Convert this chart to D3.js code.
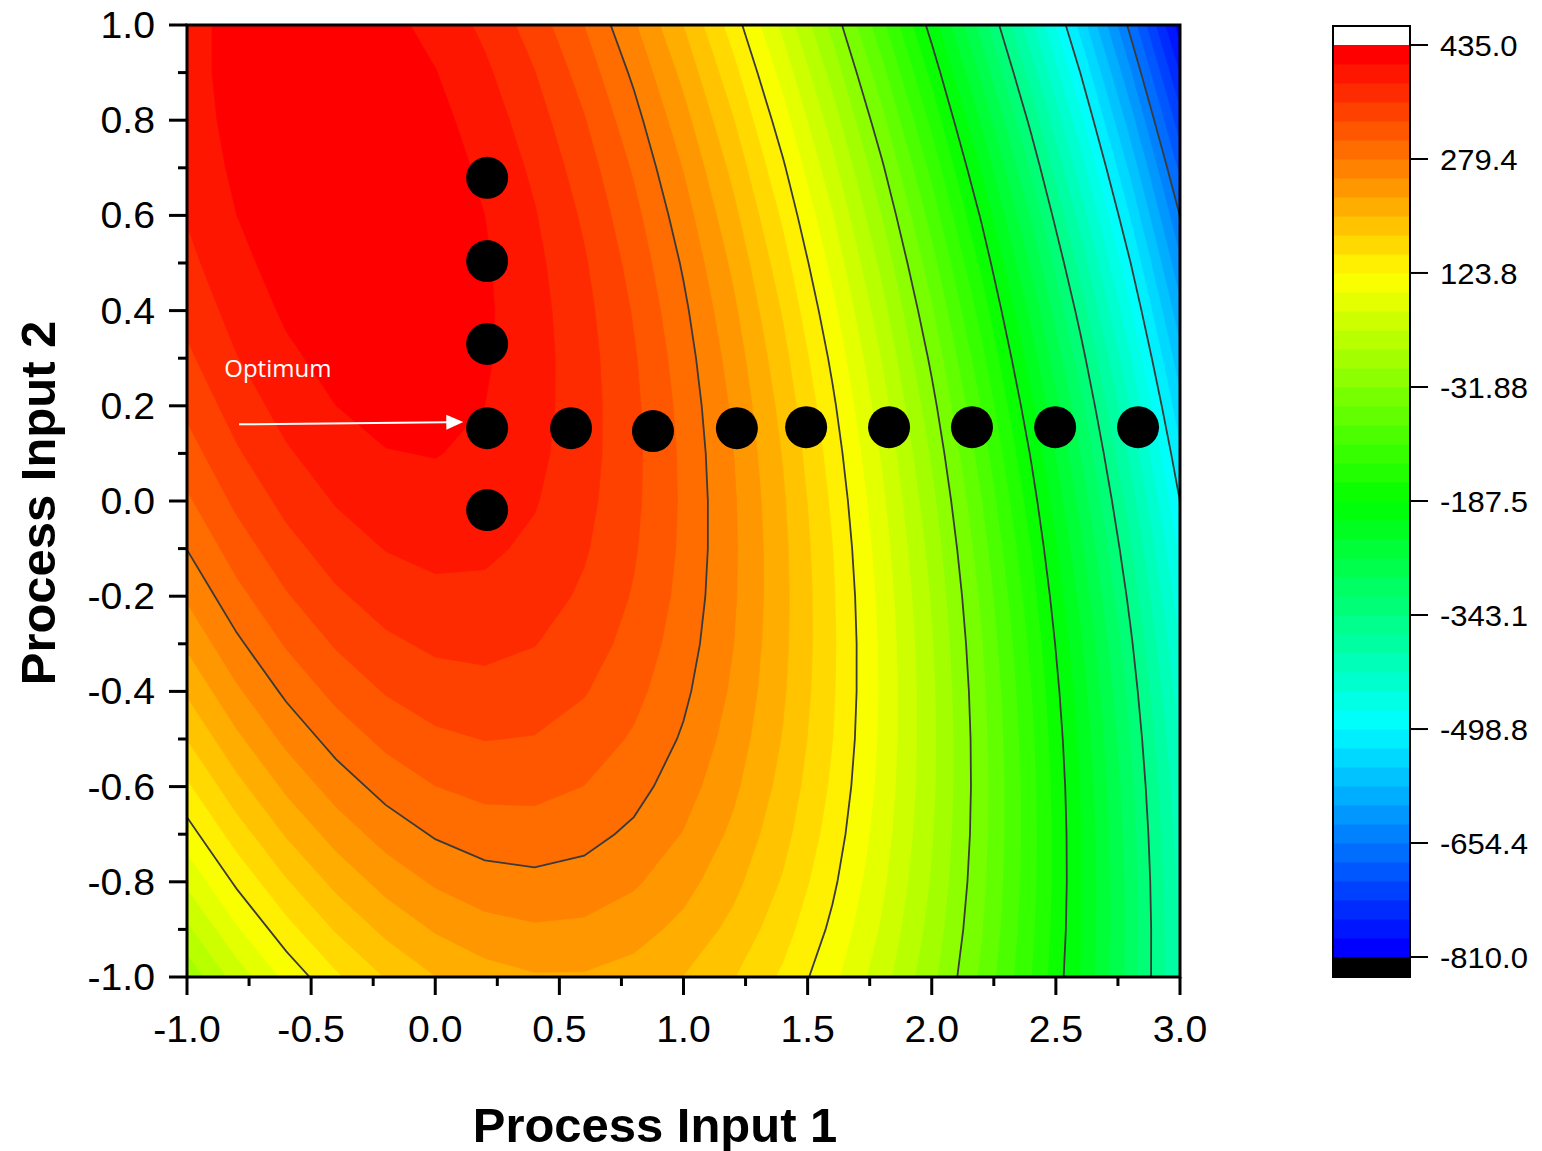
<!DOCTYPE html>
<html>
<head>
<meta charset="utf-8">
<script src="https://cdn.jsdelivr.net/npm/d3@7"></script>
<style>
  html, body { margin: 0; padding: 0; background: #ffffff; }
  svg { display: block; }
</style>
</head>
<body>
<svg id="chart" width="1542" height="1151"></svg>
<script>
// ---- Response surface samples: columns follow xGrid, rows follow yGrid ----
const xGrid = [-1.0, -0.8, -0.6, -0.4, -0.2, 0.0, 0.2, 0.4, 0.6, 0.8, 1.0,
               1.2, 1.4, 1.6, 1.8, 2.0, 2.2, 2.4, 2.6, 2.8, 3.0];
const yGrid = [-1.0, -0.9, -0.8, -0.7, -0.6, -0.5, -0.4, -0.3, -0.2, -0.1, 0.0,
               0.1, 0.2, 0.3, 0.4, 0.5, 0.6, 0.7, 0.8, 0.9, 1.0];
const zRows = [
  [  1,  57, 105, 145, 177, 201, 217, 225, 225, 217, 201, 177, 145, 105,  57,   1,  -63, -135, -215, -303, -399], // y = -1.0
  [ 40,  94, 140, 178, 208, 230, 244, 250, 248, 238, 220, 194, 160, 118,  68,  10,  -56, -130, -212, -302, -400], // y = -0.9
  [ 77, 129, 173, 209, 237, 257, 269, 273, 269, 257, 237, 209, 173, 129,  77,  17,  -51, -127, -211, -303, -403], // y = -0.8
  [112, 162, 204, 238, 264, 282, 292, 294, 288, 274, 252, 222, 184, 138,  84,  22,  -48, -126, -212, -306, -408], // y = -0.7
  [145, 193, 233, 265, 289, 305, 313, 313, 305, 289, 265, 233, 193, 145,  89,  25,  -47, -127, -215, -311, -415], // y = -0.6
  [176, 222, 260, 290, 312, 326, 332, 330, 320, 302, 276, 242, 200, 150,  92,  26,  -48, -130, -220, -318, -424], // y = -0.5
  [205, 249, 285, 313, 333, 345, 349, 345, 333, 313, 285, 249, 205, 153,  93,  25,  -51, -135, -227, -327, -435], // y = -0.4
  [232, 274, 308, 334, 352, 362, 364, 358, 344, 322, 292, 254, 208, 154,  92,  22,  -56, -142, -236, -338, -448], // y = -0.3
  [257, 297, 329, 353, 369, 377, 377, 369, 353, 329, 297, 257, 209, 153,  89,  17,  -63, -151, -247, -351, -463], // y = -0.2
  [280, 318, 348, 370, 384, 390, 388, 378, 360, 334, 300, 258, 208, 150,  84,  10,  -72, -162, -260, -366, -480], // y = -0.1
  [301, 337, 365, 385, 397, 401, 397, 385, 365, 337, 301, 257, 205, 145,  77,   1,  -83, -175, -275, -383, -499], // y =  0.0
  [320, 354, 380, 398, 408, 410, 404, 390, 368, 338, 300, 254, 200, 138,  68, -10,  -96, -190, -292, -402, -520], // y =  0.1
  [337, 369, 393, 409, 417, 417, 409, 393, 369, 337, 297, 249, 193, 129,  57, -23, -111, -207, -311, -423, -543], // y =  0.2
  [352, 382, 404, 418, 424, 422, 412, 394, 368, 334, 292, 242, 184, 118,  44, -38, -128, -226, -332, -446, -568], // y =  0.3
  [365, 393, 413, 425, 429, 425, 413, 393, 365, 329, 285, 233, 173, 105,  29, -55, -147, -247, -355, -471, -595], // y =  0.4
  [376, 402, 420, 430, 432, 426, 412, 390, 360, 322, 276, 222, 160,  90,  12, -74, -168, -270, -380, -498, -624], // y =  0.5
  [385, 409, 425, 433, 433, 425, 409, 385, 353, 313, 265, 209, 145,  73,  -7, -95, -191, -295, -407, -527, -655], // y =  0.6
  [392, 414, 428, 434, 432, 422, 404, 378, 344, 302, 252, 194, 128,  54, -28, -118, -216, -322, -436, -558, -688], // y =  0.7
  [397, 417, 429, 433, 429, 417, 397, 369, 333, 289, 237, 177, 109,  33, -51, -143, -243, -351, -467, -591, -723], // y =  0.8
  [400, 418, 428, 430, 424, 410, 388, 358, 320, 274, 220, 158,  88,  10, -76, -170, -272, -382, -500, -626, -760], // y =  0.9
  [401, 417, 425, 425, 417, 401, 377, 345, 305, 257, 201, 137,  65, -15, -103, -199, -303, -415, -535, -663, -799]  // y =  1.0
];

// ---- Colour scale / contour levels ----
const scaleMin = -810.0;
const scaleMax = 435.0;
const bandCount = 48;
const rampColors = ["#0000ff", "#00ffff", "#00ff00", "#ffff00", "#ff0000"];
const lineLevels = [279.4, 123.8, -31.88, -187.5, -343.1, -498.8, -654.4];
const colorbarTicks = [435.0, 279.4, 123.8, -31.88, -187.5, -343.1, -498.8, -654.4, -810.0];
const colorbarLabels = ["435.0", "279.4", "123.8", "-31.88", "-187.5", "-343.1", "-498.8", "-654.4", "-810.0"];

// ---- Axes ----
const xTicks = [-1.0, -0.5, 0.0, 0.5, 1.0, 1.5, 2.0, 2.5, 3.0];
const xTickLabels = ["-1.0", "-0.5", "0.0", "0.5", "1.0", "1.5", "2.0", "2.5", "3.0"];
const xMinorTicks = [-0.75, -0.25, 0.25, 0.75, 1.25, 1.75, 2.25, 2.75];
const yTicks = [1.0, 0.8, 0.6, 0.4, 0.2, 0.0, -0.2, -0.4, -0.6, -0.8, -1.0];
const yTickLabels = ["1.0", "0.8", "0.6", "0.4", "0.2", "0.0", "-0.2", "-0.4", "-0.6", "-0.8", "-1.0"];
const yMinorTicks = [0.9, 0.7, 0.5, 0.3, 0.1, -0.1, -0.3, -0.5, -0.7, -0.9];

// ---- Experimental runs ----
const runX = [0.209, 0.209, 0.209, 0.209, 0.209, 0.547, 0.877, 1.215, 1.494, 1.828, 2.162, 2.497, 2.831];
const runY = [0.679, 0.504, 0.330, 0.153, -0.019, 0.153, 0.147, 0.153, 0.155, 0.155, 0.155, 0.155, 0.155];

// ---- Annotation ----
const noteText = "Optimum";
const noteAt = [-0.85, 0.261];
const arrowFrom = [-0.79, 0.161];
const arrowTo = [0.113, 0.166];

// ------------------------------------------------------------------
const svg = d3.select("#chart");
const plot = { left: 187, right: 1180, top: 25, bottom: 977 };
const x = d3.scaleLinear().domain([-1, 3]).range([plot.left, plot.right]);
const y = d3.scaleLinear().domain([-1, 1]).range([plot.bottom, plot.top]);

const ramp = d3.piecewise(d3.interpolateRgb, rampColors);
const bandStep = (scaleMax - scaleMin) / bandCount;
const bandLevels = d3.range(bandCount).map(k => scaleMin + k * bandStep);
const bandColor = k => ramp(k / (bandCount - 1));

svg.append("defs").append("clipPath").attr("id", "plot-clip")
  .append("rect")
  .attr("x", plot.left).attr("y", plot.top)
  .attr("width", plot.right - plot.left).attr("height", plot.bottom - plot.top);

// grid index space -> pixels (d3.contours places sample i at i + 0.5)
const nx = xGrid.length, ny = yGrid.length;
const values = zRows.flat();
const gx = d3.scaleLinear().domain([0.5, nx - 0.5]).range([x(xGrid[0]), x(xGrid[nx - 1])]);
const gy = d3.scaleLinear().domain([0.5, ny - 0.5]).range([y(yGrid[0]), y(yGrid[ny - 1])]);
const gridToPx = d3.geoTransform({
  point(u, v) { this.stream.point(gx(u), gy(v)); }
});
const path = d3.geoPath(gridToPx);

const field = svg.append("g").attr("clip-path", "url(#plot-clip)");

// filled bands
const bands = d3.contours().size([nx, ny]).thresholds(bandLevels)(values);
field.append("g")
  .selectAll("path")
  .data(bands)
  .join("path")
  .attr("d", path)
  .attr("fill", (d, i) => bandColor(i))
  .attr("stroke", (d, i) => bandColor(i))
  .attr("stroke-width", 0.6);

// contour lines
const isolines = d3.contours().size([nx, ny]).thresholds(lineLevels)(values);
field.append("g")
  .selectAll("path")
  .data(isolines)
  .join("path")
  .attr("d", path)
  .attr("fill", "none")
  .attr("stroke", "#3a3a3a")
  .attr("stroke-width", 1.8);

// experimental runs
field.append("g")
  .selectAll("circle")
  .data(runX.map((v, i) => [v, runY[i]]))
  .join("circle")
  .attr("cx", d => x(d[0]))
  .attr("cy", d => y(d[1]))
  .attr("r", 21)
  .attr("fill", "#000000");

// optimum annotation
const ax0 = x(arrowFrom[0]), ay0 = y(arrowFrom[1]);
const ax1 = x(arrowTo[0]), ay1 = y(arrowTo[1]);
const ang = Math.atan2(ay1 - ay0, ax1 - ax0);
const headLen = 17, headHalf = 7.5;
const bx = ax1 - headLen * Math.cos(ang), by = ay1 - headLen * Math.sin(ang);
svg.append("line")
  .attr("x1", ax0).attr("y1", ay0).attr("x2", bx + 1).attr("y2", by)
  .attr("stroke", "#ffffff").attr("stroke-width", 2);
svg.append("polygon")
  .attr("points", [
    [ax1, ay1],
    [bx - headHalf * Math.sin(ang), by + headHalf * Math.cos(ang)],
    [bx + headHalf * Math.sin(ang), by - headHalf * Math.cos(ang)]
  ].map(p => p.join(",")).join(" "))
  .attr("fill", "#ffffff");
svg.append("text")
  .attr("x", x(noteAt[0])).attr("y", y(noteAt[1]))
  .attr("font-family", "'Open Sans', Lato, sans-serif")
  .attr("font-size", 24)
  .attr("fill", "#ffffff")
  .text(noteText);

// frame
svg.append("rect")
  .attr("x", plot.left).attr("y", plot.top)
  .attr("width", plot.right - plot.left).attr("height", plot.bottom - plot.top)
  .attr("fill", "none").attr("stroke", "#000").attr("stroke-width", 3);

const axisFont = "'Liberation Sans', Arial, sans-serif";
// labels are set slightly wide, as in the exported figure
const placeWide = (px, py, sx) => `translate(${px},${py}) scale(${sx},1)`;

// x axis ticks
const xAxis = svg.append("g");
xAxis.selectAll("line.major").data(xTicks).join("line").attr("class", "major")
  .attr("x1", d => x(d)).attr("x2", d => x(d))
  .attr("y1", plot.bottom).attr("y2", plot.bottom + 18)
  .attr("stroke", "#000").attr("stroke-width", 3);
xAxis.selectAll("line.minor").data(xMinorTicks).join("line").attr("class", "minor")
  .attr("x1", d => x(d)).attr("x2", d => x(d))
  .attr("y1", plot.bottom).attr("y2", plot.bottom + 9)
  .attr("stroke", "#000").attr("stroke-width", 3);
xAxis.selectAll("text").data(xTicks).join("text")
  .attr("transform", d => placeWide(x(d), 1042, 1.06))
  .attr("text-anchor", "middle")
  .attr("font-family", axisFont).attr("font-size", 37)
  .text((d, i) => xTickLabels[i]);

// y axis ticks
const yAxis = svg.append("g");
yAxis.selectAll("line.major").data(yTicks).join("line").attr("class", "major")
  .attr("x1", plot.left - 18).attr("x2", plot.left)
  .attr("y1", d => y(d)).attr("y2", d => y(d))
  .attr("stroke", "#000").attr("stroke-width", 3);
yAxis.selectAll("line.minor").data(yMinorTicks).join("line").attr("class", "minor")
  .attr("x1", plot.left - 9).attr("x2", plot.left)
  .attr("y1", d => y(d)).attr("y2", d => y(d))
  .attr("stroke", "#000").attr("stroke-width", 3);
yAxis.selectAll("text").data(yTicks).join("text")
  .attr("transform", d => placeWide(155, y(d) + 13, 1.06))
  .attr("text-anchor", "end")
  .attr("font-family", axisFont).attr("font-size", 37)
  .text((d, i) => yTickLabels[i]);

// axis titles
svg.append("text")
  .attr("transform", placeWide(655, 1142, 1.02))
  .attr("text-anchor", "middle")
  .attr("font-family", axisFont).attr("font-size", 48).attr("font-weight", "bold")
  .text("Process Input 1");
svg.append("text")
  .attr("transform", "translate(55,503) rotate(-90) scale(1.02,1)")
  .attr("text-anchor", "middle")
  .attr("font-family", axisFont).attr("font-size", 48).attr("font-weight", "bold")
  .text("Process Input 2");

// ---- colour bar ----
const cb = { left: 1333, right: 1410, top: 45, bottom: 957, cap: 19 };
const cbScale = d3.scaleLinear().domain([scaleMin, scaleMax]).range([cb.bottom, cb.top]);
const cbar = svg.append("g");
cbar.append("rect")
  .attr("x", cb.left).attr("y", cb.top - cb.cap)
  .attr("width", cb.right - cb.left).attr("height", cb.cap)
  .attr("fill", "#ffffff");
cbar.selectAll("rect.band").data(bandLevels).join("rect").attr("class", "band")
  .attr("x", cb.left)
  .attr("y", d => cbScale(d + bandStep))
  .attr("width", cb.right - cb.left)
  .attr("height", d => cbScale(d) - cbScale(d + bandStep) + 0.5)
  .attr("fill", (d, i) => bandColor(i));
cbar.append("rect")
  .attr("x", cb.left).attr("y", cb.bottom)
  .attr("width", cb.right - cb.left).attr("height", cb.cap + 1)
  .attr("fill", "#000000");
cbar.append("rect")
  .attr("x", cb.left).attr("y", cb.top - cb.cap)
  .attr("width", cb.right - cb.left).attr("height", cb.bottom - cb.top + 2 * cb.cap + 1)
  .attr("fill", "none").attr("stroke", "#000").attr("stroke-width", 2);
cbar.selectAll("line.tick").data(colorbarTicks).join("line").attr("class", "tick")
  .attr("x1", cb.right).attr("x2", cb.right + 18)
  .attr("y1", d => cbScale(d)).attr("y2", d => cbScale(d))
  .attr("stroke", "#000").attr("stroke-width", 2);
cbar.selectAll("text").data(colorbarTicks).join("text")
  .attr("transform", d => placeWide(1440, cbScale(d) + 11, 1.07))
  .attr("font-family", axisFont).attr("font-size", 29)
  .text((d, i) => colorbarLabels[i]);
</script>
</body>
</html>
